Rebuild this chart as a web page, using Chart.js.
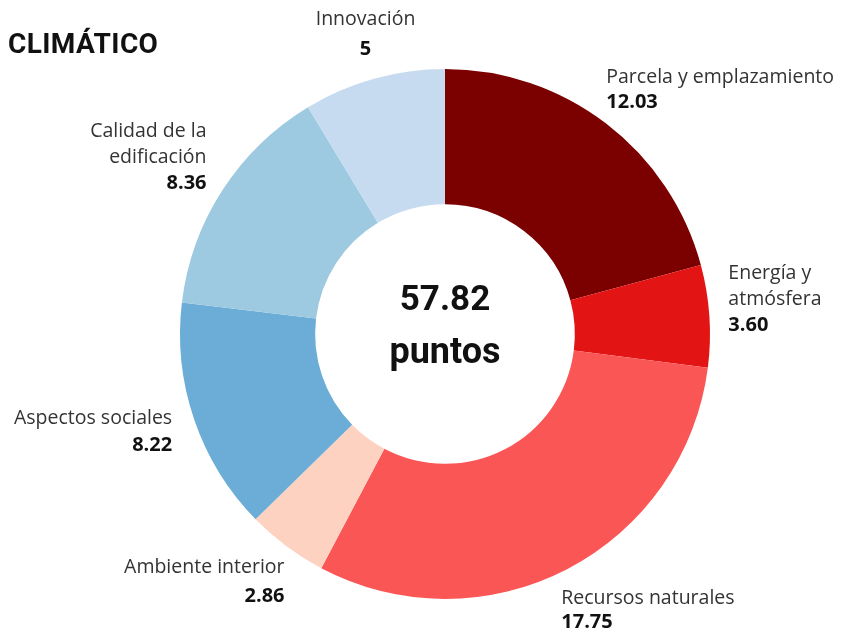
<!DOCTYPE html>
<html>
<head>
<meta charset="utf-8">
<script src="https://cdn.jsdelivr.net/npm/chart.js@4/dist/chart.umd.min.js"></script>
<style>
  html, body { margin: 0; padding: 0; background: #fff; }
  #wrap { position: relative; width: 849px; height: 635px; }
  #titulo { position: absolute; left: 8px; top: 27px; font-family: Roboto, sans-serif; font-weight: 700; font-size: 28px; color: #111; letter-spacing: 0.4px; }
</style>
</head>
<body>
<div id="wrap">
  <canvas id="chartClima" width="849" height="635"></canvas>
  <div id="titulo">CLIMÁTICO</div>
</div>
<script>
// === DATOS ===
const categorias = [
    ["Parcela y emplazamiento"],
    ["Energía y", "atmósfera"],
    ["Recursos naturales"],
    ["Ambiente interior"],
    ["Aspectos sociales"],
    ["Calidad de la", "edificación"],
    ["Innovación"]
];
const valores = [12.03, 3.60, 17.75, 2.86, 8.22, 8.36, 5];
const etiquetasValor = ["12.03", "3.60", "17.75", "2.86", "8.22", "8.36", "5"];
const totalTexto = ["57.82", "puntos"];

const colores = ['#7b0000', '#e21414', '#fb5656', '#fdd2c1', '#6badd6', '#9ecae1', '#c6dbef'];

// ajuste fino de cada etiqueta respecto al punto medio del arco
const ajusteEtiquetas = [
    { dx: -12, dy: -30, align: 'left',   gap: 25 },
    { dx: -1,  dy: -41, align: 'left',   gap: 26 },
    { dx: -15, dy: 11,  align: 'left',   gap: 24 },
    { dx: 10,  dy: 5,   align: 'right',  gap: 29 },
    { dx: -3,  dy: -7,  align: 'right',  gap: 27 },
    { dx: 1,   dy: -48, align: 'right',  gap: 26 },
    { dx: -3,  dy: -40, align: 'center', gap: 30 }
];

// === PLUGIN: etiquetas exteriores y texto central ===
const etiquetasPlugin = {
    id: 'etiquetas',
    afterDatasetsDraw(chart) {
        const ctx = chart.ctx;
        const meta = chart.getDatasetMeta(0);
        ctx.save();
        ctx.textBaseline = 'middle';

        meta.data.forEach((arc, i) => {
            const { x, y, startAngle, endAngle, outerRadius } = arc.getProps(['x', 'y', 'startAngle', 'endAngle', 'outerRadius'], true);
            const mid = (startAngle + endAngle) / 2;
            const r = outerRadius + 20;
            const aj = ajusteEtiquetas[i];
            const px = x + Math.cos(mid) * r + aj.dx;
            let py = y + Math.sin(mid) * r + aj.dy;

            ctx.textAlign = aj.align;
            ctx.fillStyle = '#333';
            ctx.font = '19.5px "Open Sans", sans-serif';
            categorias[i].forEach((linea, k) => {
                if (k > 0) py += 26;
                ctx.fillText(linea, px, py);
            });
            ctx.fillStyle = '#111';
            ctx.font = 'bold 20px "Open Sans", sans-serif';
            ctx.fillText(etiquetasValor[i], px, py + aj.gap);
        });

        // texto central
        const c = meta.data[0];
        ctx.textAlign = 'center';
        ctx.fillStyle = '#111';
        ctx.font = 'bold 35px Roboto, sans-serif';
        ctx.fillText(totalTexto[0], c.x, c.y - 33);
        ctx.font = 'bold 36px Roboto, sans-serif';
        ctx.fillText(totalTexto[1], c.x, c.y + 20);
        ctx.restore();
    }
};

new Chart(document.getElementById('chartClima'), {
    type: 'doughnut',
    data: {
        labels: categorias.map(c => c.join(' ')),
        datasets: [{
            data: valores,
            backgroundColor: colores,
            borderWidth: 0
        }]
    },
    options: {
        responsive: false,
        animation: false,
        cutout: '49%',
        layout: { padding: { top: 69, bottom: 36, left: 180, right: 139 } },
        plugins: {
            legend: { display: false },
            tooltip: { enabled: false }
        }
    },
    plugins: [etiquetasPlugin]
});
</script>
</body>
</html>
